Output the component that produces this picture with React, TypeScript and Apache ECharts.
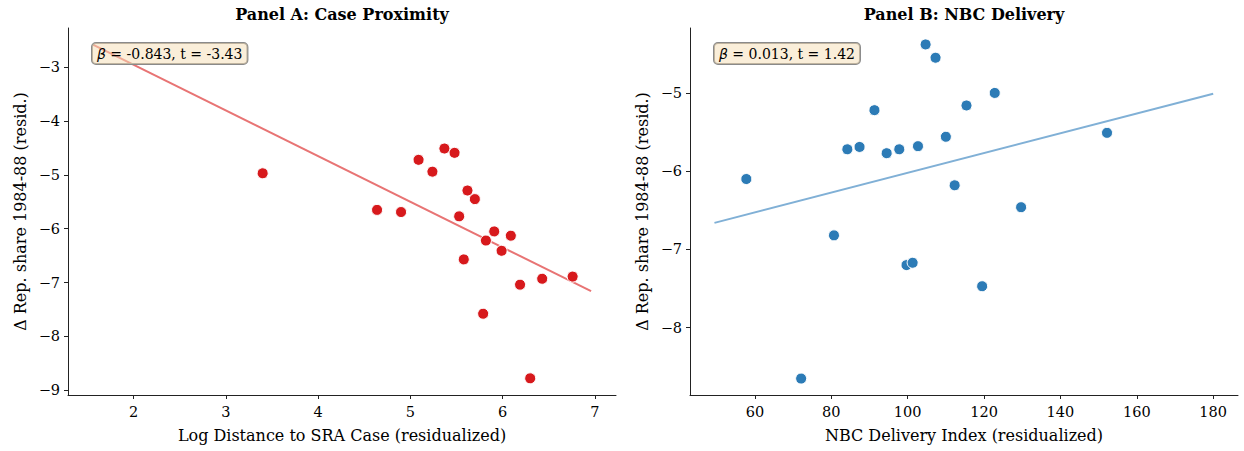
import React, { useEffect, useRef } from "react";
import * as echarts from "echarts";

// Panel A: Case Proximity
const aX = [3.40, 4.64, 4.90, 5.09, 5.24, 5.37, 5.48, 5.53, 5.58, 5.62, 5.70, 5.79, 5.82, 5.91, 5.99, 6.09, 6.19, 6.30, 6.43, 6.76];
const aY = [-4.97, -5.65, -5.69, -4.72, -4.94, -4.51, -4.59, -5.77, -6.57, -5.29, -5.45, -7.58, -6.22, -6.05, -6.41, -6.13, -7.04, -8.78, -6.93, -6.89];
const aFitX = [1.56, 6.96];
const aFitY = [-2.58, -7.16];
const aXTicks = [2, 3, 4, 5, 6, 7];
const aYTicks = [-9, -8, -7, -6, -5, -4, -3];

// Panel B: NBC Delivery
const bX = [57.75, 72.1, 80.7, 84.2, 87.4, 91.3, 94.5, 97.8, 99.7, 101.3, 102.7, 104.7, 107.3, 110.0, 112.3, 115.4, 119.5, 122.8, 129.7, 152.2];
const bY = [-6.10, -8.65, -6.82, -5.72, -5.69, -5.22, -5.77, -5.72, -7.20, -7.17, -5.68, -4.38, -4.55, -5.56, -6.18, -5.16, -7.47, -5.00, -6.46, -5.51];
const bFitX = [49.4, 180];
const bFitY = [-6.66, -5.01];
const bXTicks = [60, 80, 100, 120, 140, 160, 180];
const bYTicks = [-8, -7, -6, -5];

const titles = ["Panel A: Case Proximity", "Panel B: NBC Delivery"];
const xNames = ["Log Distance to SRA Case (residualized)", "NBC Delivery Index (residualized)"];
const yName = "Δ Rep. share 1984-88 (resid.)";
const statsA = { beta: "-0.843", t: "-3.43" };
const statsB = { beta: "0.013", t: "1.42" };

const FONT = "DejaVu Serif";
const minus = (v: number) => String(v).replace("-", "\u2212");

function xAxis(idx: number, min: number, max: number, ticks: number[], name: string) {
  return {
    type: "value",
    gridIndex: idx,
    min,
    max,
    name,
    nameLocation: "middle",
    nameGap: 32,
    nameTextStyle: { fontFamily: FONT, fontSize: 16, color: "#000" },
    axisLine: { onZero: false, lineStyle: { color: "#222", width: 1 } },
    axisTick: { show: true, customValues: ticks, length: 4, lineStyle: { color: "#222" } },
    axisLabel: { customValues: ticks, formatter: minus, fontFamily: FONT, fontSize: 14.5, color: "#000", margin: 9 },
    splitLine: { show: false },
  };
}
function yAxis(idx: number, min: number, max: number, ticks: number[]) {
  return {
    type: "value",
    gridIndex: idx,
    min,
    max,
    name: yName,
    nameLocation: "middle",
    nameGap: 40,
    nameRotate: 90,
    nameTextStyle: { fontFamily: FONT, fontSize: 16, color: "#000" },
    axisLine: { show: true, onZero: false, lineStyle: { color: "#222", width: 1 } },
    axisTick: { show: true, customValues: ticks, length: 4, lineStyle: { color: "#222" } },
    axisLabel: { customValues: ticks, formatter: minus, fontFamily: FONT, fontSize: 14.5, color: "#000", margin: 8 },
    splitLine: { show: false },
  };
}

function statBox(x: number, s: { beta: string; t: string }) {
  return {
    type: "text",
    x,
    y: 43,
    z: 10,
    style: {
      text: `{b|β} = ${s.beta}, t = ${s.t}`,
      fontFamily: FONT,
      fontSize: 14,
      fill: "#000",
      backgroundColor: "rgba(245,222,179,0.5)",
      borderColor: "#8a8a8a",
      borderWidth: 1,
      borderRadius: 4,
      padding: [4, 5, 3, 5],
      rich: { b: { fontFamily: "DejaVu Sans", fontStyle: "italic", fontSize: 14, fill: "#000" } },
    },
  };
}

export default function App() {
  const ref = useRef<HTMLDivElement>(null);
  useEffect(() => {
    if (!ref.current) return;
    const chart = echarts.init(ref.current, undefined, { renderer: "svg" });
    chart.setOption({
      animation: false,
      backgroundColor: "#fff",
      grid: [
        { left: 68, top: 28, width: 548, height: 367 },
        { left: 690, top: 28, width: 548, height: 367 },
      ],
      xAxis: [xAxis(0, 1.29, 7.23, aXTicks, xNames[0]), xAxis(1, 43, 186.5, bXTicks, xNames[1])],
      yAxis: [yAxis(0, -9.09, -2.27, aYTicks), yAxis(1, -8.86, -4.17, bYTicks)],
      graphic: [
        { type: "text", x: 342, y: 6, style: { text: titles[0], textAlign: "center", fontFamily: FONT, fontWeight: "bold", fontSize: 16, fill: "#000" } },
        { type: "text", x: 964, y: 6, style: { text: titles[1], textAlign: "center", fontFamily: FONT, fontWeight: "bold", fontSize: 16, fill: "#000" } },
        statBox(92, statsA),
        statBox(714, statsB),
      ],
      series: [
        {
          type: "line",
          xAxisIndex: 0,
          yAxisIndex: 0,
          data: aFitX.map((x, i) => [x, aFitY[i]]),
          showSymbol: false,
          lineStyle: { color: "#e87474", width: 2 },
          z: 1,
        },
        {
          type: "scatter",
          xAxisIndex: 0,
          yAxisIndex: 0,
          data: aX.map((x, i) => [x, aY[i]]),
          symbolSize: 11,
          itemStyle: { color: "#d7191c", borderColor: "#fff", borderWidth: 1, opacity: 1 },
          z: 2,
        },
        {
          type: "line",
          xAxisIndex: 1,
          yAxisIndex: 1,
          data: bFitX.map((x, i) => [x, bFitY[i]]),
          showSymbol: false,
          lineStyle: { color: "#80b0d6", width: 2 },
          z: 1,
        },
        {
          type: "scatter",
          xAxisIndex: 1,
          yAxisIndex: 1,
          data: bX.map((x, i) => [x, bY[i]]),
          symbolSize: 11,
          itemStyle: { color: "#2c7bb6", borderColor: "#fff", borderWidth: 1, opacity: 1 },
          z: 2,
        },
      ],
    });
    return () => chart.dispose();
  }, []);
  return <div ref={ref} style={{ position: "fixed", left: 0, top: 0, width: 1244, height: 451 }} />;
}
